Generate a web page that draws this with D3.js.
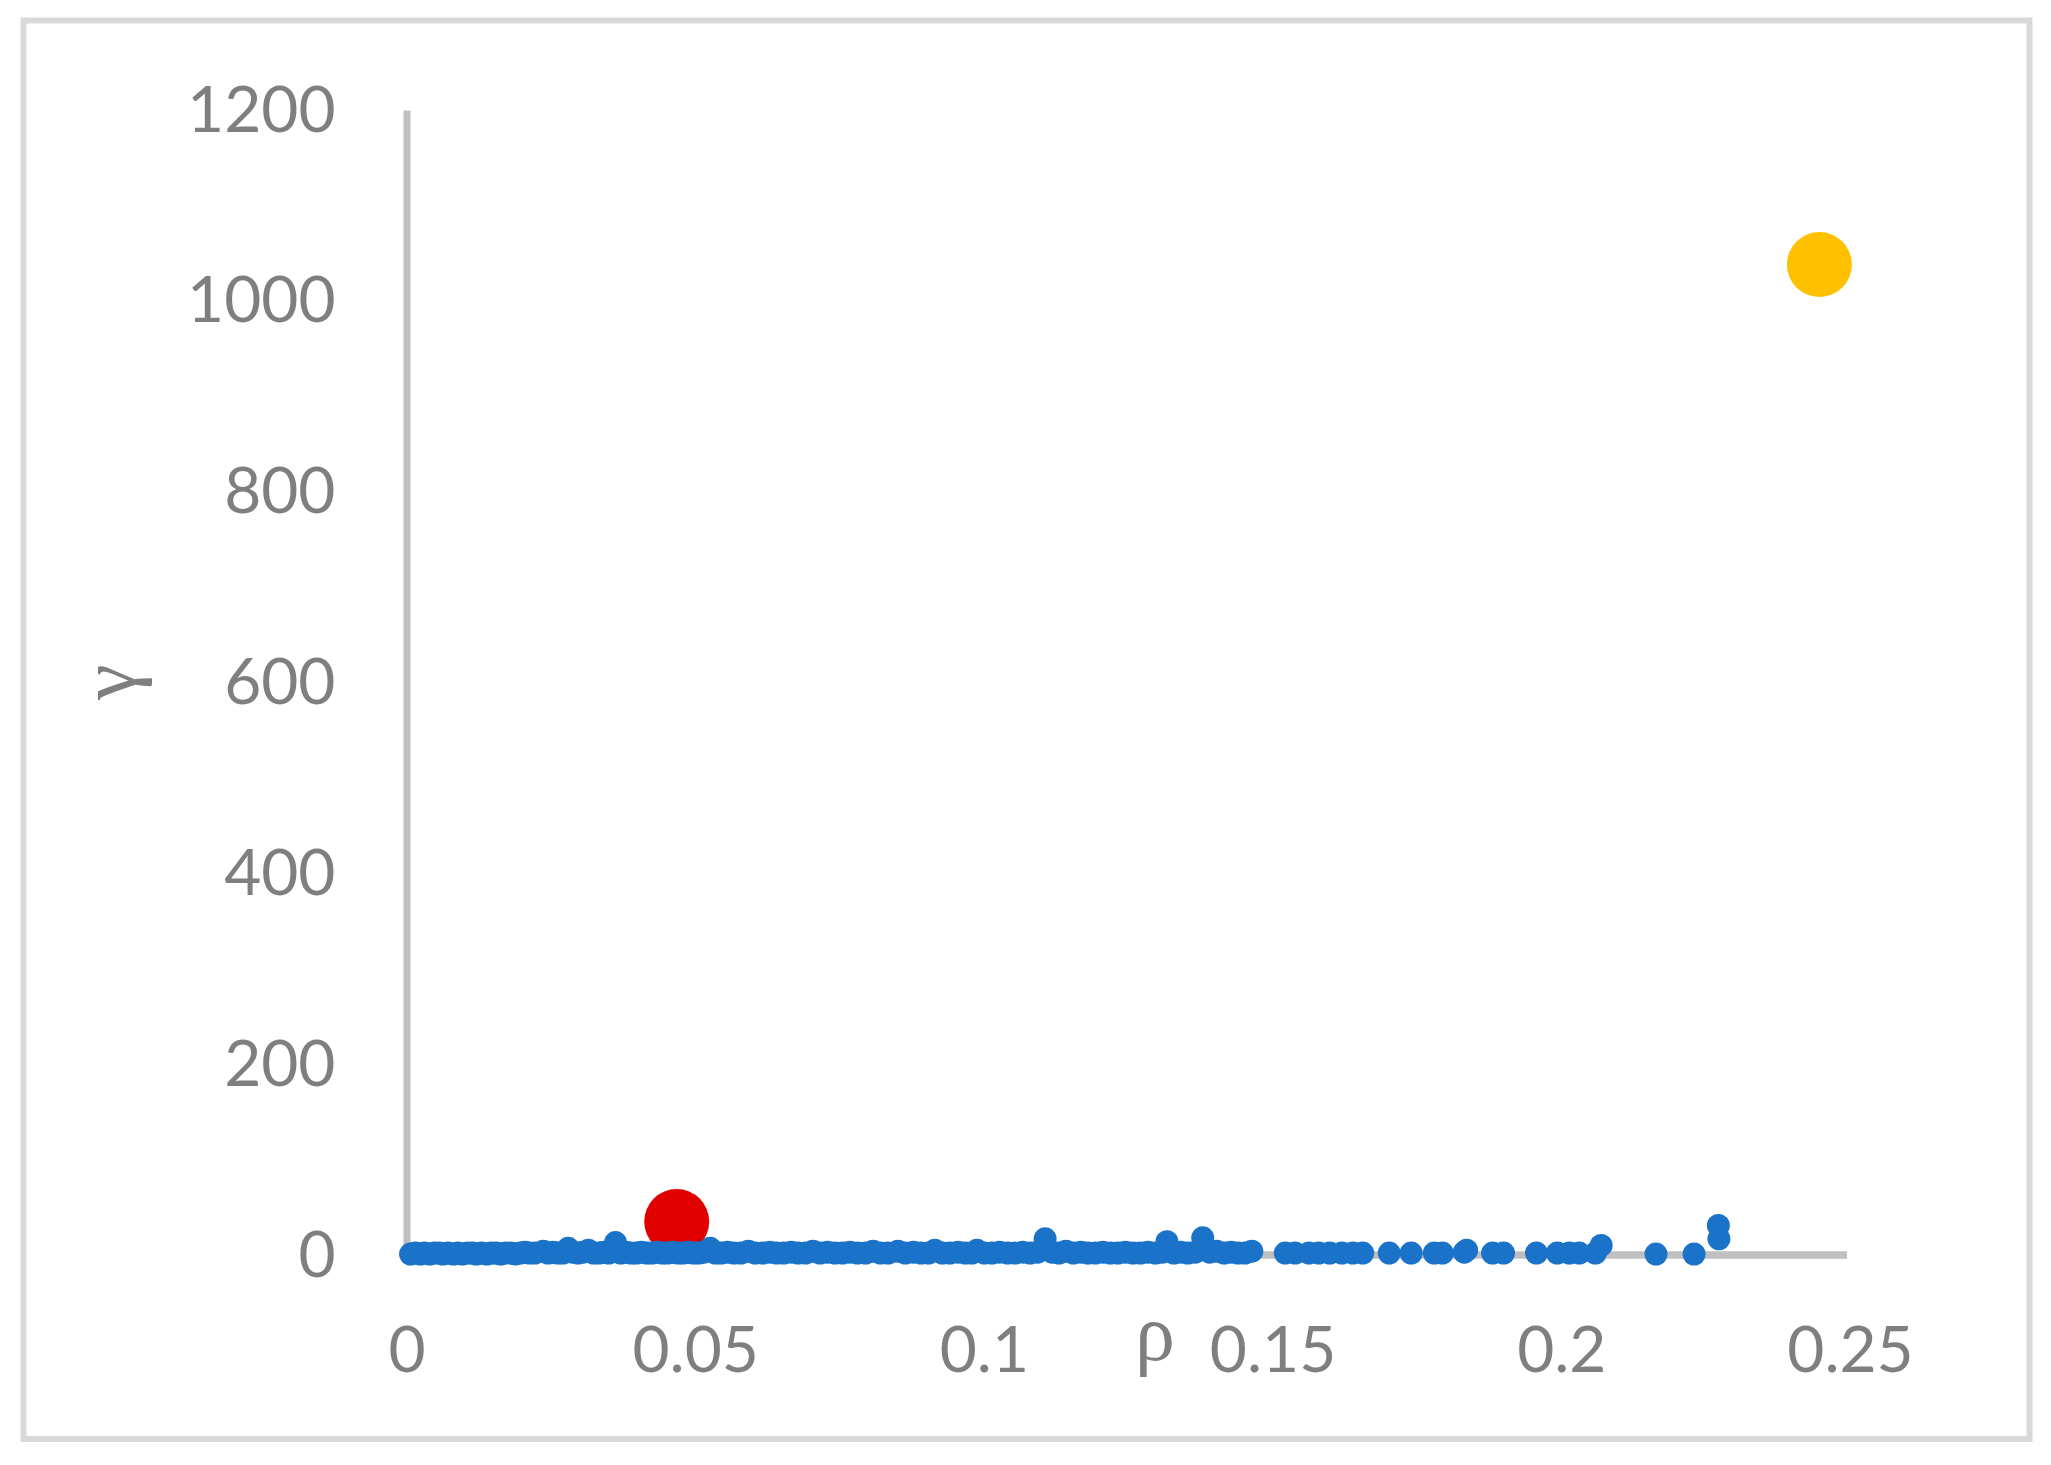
<!DOCTYPE html>
<html>
<head>
<meta charset="utf-8">
<script src="https://cdn.jsdelivr.net/npm/d3@7"></script>
<style>
  html, body { margin: 0; padding: 0; background: #ffffff; }
  svg { display: block; }
</style>
</head>
<body>
<script>
// ---------- data ----------
const xTicks = [0, 0.05, 0.1, 0.15, 0.2, 0.25];
const xTickLabels = ["0", "0.05", "0.1", "0.15", "0.2", "0.25"];
const yTicks = [0, 200, 400, 600, 800, 1000, 1200];
const yTickLabels = ["0", "200", "400", "600", "800", "1000", "1200"];

// main (blue) series
const blueRho = [
  0.0007, 0.0015, 0.0024, 0.0031, 0.0040, 0.0048, 0.0057, 0.0063, 0.0072, 0.0081,
  0.0089, 0.0097, 0.0106, 0.0114, 0.0121, 0.0130, 0.0139, 0.0147, 0.0155, 0.0163,
  0.0172, 0.0180, 0.0188, 0.0197, 0.0205, 0.0213, 0.0222, 0.0237, 0.0245, 0.0254,
  0.0262, 0.0271, 0.0280, 0.0288, 0.0297, 0.0306, 0.0315, 0.0324, 0.0333, 0.0341,
  0.0350, 0.0362, 0.0371, 0.0380, 0.0389, 0.0398, 0.0407, 0.0416, 0.0425, 0.0434,
  0.0443, 0.0452, 0.0461, 0.0470, 0.0479, 0.0488, 0.0497, 0.0506, 0.0515, 0.0526,
  0.0535, 0.0545, 0.0556, 0.0567, 0.0579, 0.0592, 0.0604, 0.0617, 0.0629, 0.0641,
  0.0653, 0.0666, 0.0678, 0.0691, 0.0704, 0.0716, 0.0729, 0.0742, 0.0755, 0.0768,
  0.0781, 0.0795, 0.0808, 0.0821, 0.0834, 0.0851, 0.0864, 0.0878, 0.0891, 0.0904,
  0.0915, 0.0928, 0.0941, 0.0955, 0.0968, 0.0979, 0.0988, 0.1001, 0.1014, 0.1027,
  0.1041, 0.1054, 0.1067, 0.1080, 0.1093, 0.1106, 0.1118, 0.1130, 0.1142, 0.1155,
  0.1168, 0.1180, 0.1193, 0.1206, 0.1219, 0.1232, 0.1245, 0.1258, 0.1271, 0.1284,
  0.1297, 0.1309, 0.1317, 0.1329, 0.1341, 0.1353, 0.1366, 0.1379, 0.1391, 0.1403,
  0.1416, 0.1428, 0.1440, 0.1452, 0.1464,
  0.1522, 0.1539, 0.1563, 0.1580, 0.1599, 0.1620, 0.1639, 0.1656, 0.1702, 0.1740,
  0.1780, 0.1794, 0.1832, 0.1836, 0.1881, 0.1900, 0.1957, 0.1993, 0.2014, 0.2031,
  0.2059, 0.2069, 0.2164, 0.2230, 0.2272, 0.2273
];
const blueGamma = [
  1, 2, 1, 2, 1, 2, 2, 1, 2, 1,
  2, 1, 2, 2, 1, 2, 1, 2, 2, 1,
  2, 2, 1, 2, 3, 2, 2, 4, 2, 3,
  2, 2, 7, 3, 2, 3, 5, 2, 2, 3,
  2, 13, 2, 3, 2, 2, 3, 2, 2, 3,
  2, 2, 3, 2, 2, 3, 2, 2, 3, 7,
  2, 2, 3, 2, 2, 4, 2, 2, 3, 2,
  2, 3, 2, 2, 4, 2, 3, 2, 2, 3,
  2, 2, 4, 2, 2, 4, 2, 3, 2, 2,
  5, 2, 2, 3, 2, 2, 5, 2, 2, 3,
  2, 2, 3, 2, 3, 17, 3, 2, 4, 2,
  3, 2, 2, 3, 2, 2, 3, 2, 2, 3,
  2, 3, 14, 2, 3, 2, 3, 18, 3, 4,
  2, 3, 2, 2, 4,
  2, 2, 2, 2, 2, 2, 2, 2, 2, 2,
  2, 2, 3, 5, 2, 2, 2, 2, 2, 2,
  2, 10, 1, 1, 31, 17
];

// highlighted points
const redRho = [0.0468];
const redGamma = [35];
const yellowRho = [0.2447];
const yellowGamma = [1038];

// ---------- layout ----------
const W = 2051, H = 1465;
const svg = d3.select("body").append("svg")
  .attr("width", W).attr("height", H);

svg.append("rect").attr("x", 0).attr("y", 0).attr("width", W).attr("height", H).attr("fill", "#fff");
svg.append("rect")
  .attr("x", 23.5).attr("y", 20.5)
  .attr("width", 2006).attr("height", 1418.5)
  .attr("fill", "none").attr("stroke", "#D9D9D9").attr("stroke-width", 6);

const x = d3.scaleLinear().domain([0, 0.25]).range([406.5, 1850]);
const y = d3.scaleLinear().domain([0, 1200]).range([1255, 110]);

const labelFont = "Lato, 'Open Sans', sans-serif";
const labelColor = "#7F7F7F";

// y axis
const yAxis = d3.axisLeft(y).tickValues(yTicks)
  .tickFormat((d, i) => yTickLabels[i]).tickSize(0).tickSizeOuter(0).tickPadding(71);
const gy = svg.append("g").attr("transform", `translate(${x(0)},0)`).call(yAxis);
gy.select(".domain").attr("stroke", "#BFBFBF").attr("stroke-width", 7);
gy.selectAll("text").attr("fill", labelColor).style("font-family", labelFont)
  .style("font-size", "64px").attr("dy", "0.33em");

// x axis
const xAxis = d3.axisBottom(x).tickValues(xTicks)
  .tickFormat((d, i) => xTickLabels[i]).tickSize(0).tickSizeOuter(0).tickPadding(72);
const gx = svg.append("g").attr("transform", `translate(0,${y(0)})`).call(xAxis);
gx.select(".domain").attr("stroke", "#BFBFBF").attr("stroke-width", 7.5)
  .attr("d", `M${x(0)},0H${x(0.25) - 3}`);
gx.selectAll("text").attr("fill", labelColor).style("font-family", labelFont)
  .style("font-size", "64px").attr("dy", "0.71em");

// axis titles
svg.append("text")
  .attr("x", 1155).attr("y", 1360)
  .attr("text-anchor", "middle")
  .attr("fill", labelColor)
  .style("font-family", "'Liberation Serif', 'DejaVu Serif', serif")
  .style("font-size", "80px")
  .text("ρ");
svg.append("text")
  .attr("transform", "translate(135,682) rotate(-90)")
  .attr("text-anchor", "middle")
  .attr("fill", labelColor)
  .style("font-family", "'Liberation Serif', 'DejaVu Serif', serif")
  .style("font-size", "80px")
  .text("γ");

// points
const plot = svg.append("g");
plot.selectAll("circle.red").data(redRho.map((r, i) => [r, redGamma[i]]))
  .join("circle").attr("class", "red")
  .attr("cx", d => x(d[0])).attr("cy", d => y(d[1])).attr("r", 32.5)
  .attr("fill", "#E00000");
plot.selectAll("circle.yellow").data(yellowRho.map((r, i) => [r, yellowGamma[i]]))
  .join("circle").attr("class", "yellow")
  .attr("cx", d => x(d[0])).attr("cy", d => y(d[1])).attr("r", 32.5)
  .attr("fill", "#FFC000");
plot.selectAll("circle.blue").data(blueRho.map((r, i) => [r, blueGamma[i]]))
  .join("circle").attr("class", "blue")
  .attr("cx", d => x(d[0])).attr("cy", d => y(d[1])).attr("r", 11.5)
  .attr("fill", "#1A73C8");
</script>
</body>
</html>
